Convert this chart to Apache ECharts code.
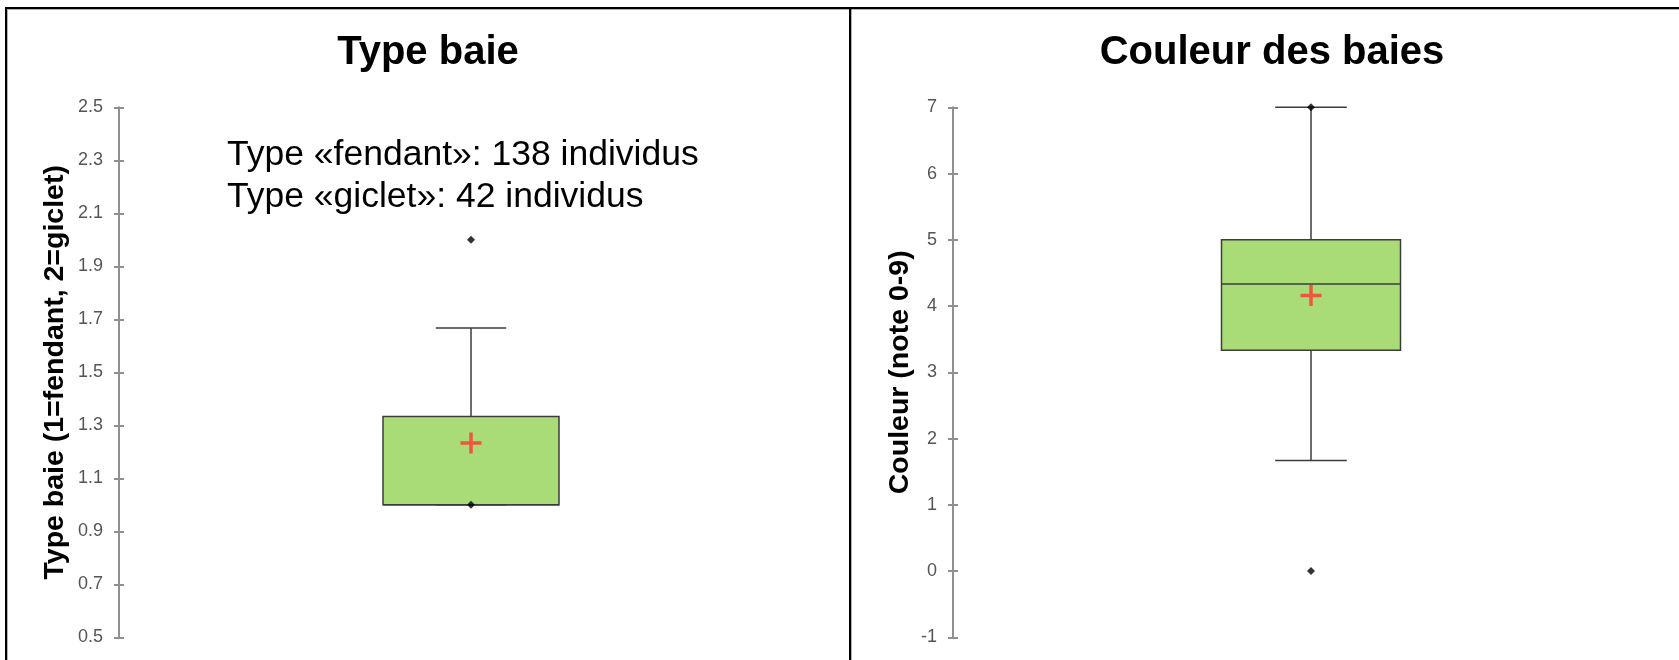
<!DOCTYPE html>
<html>
<head>
<meta charset="utf-8">
<script src="https://cdn.jsdelivr.net/npm/echarts@6/dist/echarts.min.js"></script>
<style>
  html, body { margin: 0; padding: 0; background: #ffffff; }
  #chart { width: 1679px; height: 660px; }
</style>
</head>
<body>
<div id="chart"></div>
<script>
// Panel texts
const panelTitles = ['Type baie', 'Couleur des baies'];
const axisNames = ['Type baie (1=fendant, 2=giclet)', 'Couleur (note 0-9)'];
const typeCounts = ['Type «fendant»: 138 individus', 'Type «giclet»: 42 individus'];

// Box statistics: [lower whisker, Q1, median, Q3, upper whisker]
const typeBox = [1.0, 1.0, 1.0, 1.333, 1.667];
const couleurBox = [1.667, 3.333, 4.333, 5.0, 7.0];

// Means (red cross)
const typeMean = 1.233;
const couleurMean = 4.16;

// Individual points (minimum, maximum, outliers)
const typePoints = [1.0, 2.0];
const couleurPoints = [0, 7];

// Tick values
const typeTicks = [0.5, 0.7, 0.9, 1.1, 1.3, 1.5, 1.7, 1.9, 2.1, 2.3, 2.5];
const couleurTicks = [-1, 0, 1, 2, 3, 4, 5, 6, 7];

const FONT = '"Liberation Sans", Arial, Helvetica, sans-serif';
const AXIS_GREY = '#8f8f8f';
const BOX_FILL = '#a9dc76';
const BOX_LINE = '#3c3c3c';

function renderBox(params, api) {
  const cat = api.value(0);
  const pts = [1, 2, 3, 4, 5].map(function (i) { return api.coord([cat, api.value(i)]); });
  const band = api.size([1, 0])[0];
  const cx = pts[0][0];
  const bw = band * 0.25;
  const cw = band * 0.1;
  const ls = { stroke: BOX_LINE, lineWidth: 1.5, fill: null };
  return {
    type: 'group',
    children: [
      { type: 'line', shape: { x1: cx, y1: pts[0][1], x2: cx, y2: pts[1][1] }, style: ls },
      { type: 'line', shape: { x1: cx, y1: pts[3][1], x2: cx, y2: pts[4][1] }, style: ls },
      { type: 'line', shape: { x1: cx - cw / 2, y1: pts[0][1], x2: cx + cw / 2, y2: pts[0][1] }, style: ls },
      { type: 'line', shape: { x1: cx - cw / 2, y1: pts[4][1], x2: cx + cw / 2, y2: pts[4][1] }, style: ls },
      { type: 'rect', shape: { x: cx - bw / 2, y: pts[3][1], width: bw, height: pts[1][1] - pts[3][1] },
        style: { fill: BOX_FILL, stroke: BOX_LINE, lineWidth: 1.5 } },
      { type: 'line', shape: { x1: cx - bw / 2, y1: pts[2][1], x2: cx + bw / 2, y2: pts[2][1] }, style: ls }
    ]
  };
}

function mainAxis(gridIndex, min, max, ticks, name, nameGap, fmt) {
  return {
    type: 'value', gridIndex: gridIndex, position: 'left', offset: 0,
    min: min, max: max,
    axisLine: { show: true, lineStyle: { color: AXIS_GREY, width: 2 } },
    axisTick: { show: true, inside: false, length: 5, customValues: ticks, lineStyle: { color: AXIS_GREY, width: 2 } },
    axisLabel: { customValues: ticks, formatter: fmt, margin: 16, fontSize: 18, color: '#555555', fontFamily: FONT },
    splitLine: { show: false },
    name: name, nameLocation: 'middle', nameGap: nameGap,
    nameTextStyle: { fontSize: 28.5, fontWeight: 'bold', color: '#000', fontFamily: FONT }
  };
}

// second axis on the same line: draws the inner half of each tick
function innerTickAxis(gridIndex, min, max, ticks) {
  return {
    type: 'value', gridIndex: gridIndex, position: 'left', offset: 0,
    min: min, max: max,
    axisLine: { show: false },
    axisTick: { show: true, inside: true, length: 5, customValues: ticks, lineStyle: { color: AXIS_GREY, width: 2 } },
    axisLabel: { show: false },
    splitLine: { show: false }
  };
}

const plusSymbol = 'path://M8.75,0H12.25V21H8.75Z M0,8.75H21V12.25H0Z';

const option = {
  backgroundColor: '#ffffff',
  animation: false,
  title: [
    { text: panelTitles[0], left: 423, top: 28, textAlign: 'center',
      textStyle: { fontSize: 40, fontWeight: 'bold', color: '#000', fontFamily: FONT } },
    { text: panelTitles[1], left: 1267, top: 28, textAlign: 'center',
      textStyle: { fontSize: 40, fontWeight: 'bold', color: '#000', fontFamily: FONT } }
  ],
  grid: [
    { left: 119, top: 107.3, width: 704, height: 530, outerBoundsMode: 'none', containLabel: false },
    { left: 953, top: 107.3, width: 716, height: 530, outerBoundsMode: 'none', containLabel: false }
  ],
  xAxis: [
    { type: 'category', gridIndex: 0, data: [panelTitles[0]], show: false },
    { type: 'category', gridIndex: 1, data: [panelTitles[1]], show: false }
  ],
  yAxis: [
    mainAxis(0, 0.5, 2.5, typeTicks, axisNames[0], 49, function (v) { return v.toFixed(1); }),
    mainAxis(1, -1, 7, couleurTicks, axisNames[1], 38, function (v) { return String(v); }),
    innerTickAxis(0, 0.5, 2.5, typeTicks),
    innerTickAxis(1, -1, 7, couleurTicks)
  ],
  series: [
    { type: 'custom', xAxisIndex: 0, yAxisIndex: 0, renderItem: renderBox,
      data: [[0].concat(typeBox)], encode: { x: 0, y: [1, 2, 3, 4, 5] }, z: 2 },
    { type: 'custom', xAxisIndex: 1, yAxisIndex: 1, renderItem: renderBox,
      data: [[0].concat(couleurBox)], encode: { x: 0, y: [1, 2, 3, 4, 5] }, z: 2 },
    { type: 'scatter', xAxisIndex: 0, yAxisIndex: 0, symbol: 'diamond', symbolSize: 8,
      itemStyle: { color: '#000' }, z: 3,
      data: typePoints.map(function (v) { return [0, v]; }) },
    { type: 'scatter', xAxisIndex: 1, yAxisIndex: 1, symbol: 'diamond', symbolSize: 8,
      itemStyle: { color: '#000' }, z: 3,
      data: couleurPoints.map(function (v) { return [0, v]; }) },
    { type: 'scatter', xAxisIndex: 0, yAxisIndex: 0, symbol: plusSymbol, symbolSize: 21,
      itemStyle: { color: '#ff3535' }, z: 4, data: [[0, typeMean]] },
    { type: 'scatter', xAxisIndex: 1, yAxisIndex: 1, symbol: plusSymbol, symbolSize: 21,
      itemStyle: { color: '#ff3535' }, z: 4, data: [[0, couleurMean]] }
  ],
  graphic: [
    // panel frames
    { type: 'polyline', silent: true, z: 10,
      shape: { points: [[6, 720], [6, 8], [1700, 8]] },
      style: { stroke: '#000', lineWidth: 2, fill: null, shadowColor: 'rgba(0,0,0,0.3)', shadowOffsetX: 1, shadowOffsetY: 1 } },
    { type: 'line', silent: true, z: 10,
      shape: { x1: 850, y1: 8, x2: 850, y2: 720 },
      style: { stroke: '#000', lineWidth: 2, shadowColor: 'rgba(0,0,0,0.3)', shadowOffsetX: 1, shadowOffsetY: 1 } },
    // counts per berry type
    { type: 'text', x: 227, y: 155, silent: true,
      style: { text: typeCounts[0], fill: '#000', font: '35.5px ' + FONT, verticalAlign: 'middle' } },
    { type: 'text', x: 227, y: 197.7, silent: true,
      style: { text: typeCounts[1], fill: '#000', font: '35.5px ' + FONT, verticalAlign: 'middle' } }
  ]
};

const chart = echarts.init(document.getElementById('chart'), null, { renderer: 'canvas' });
chart.setOption(option);
</script>
</body>
</html>
